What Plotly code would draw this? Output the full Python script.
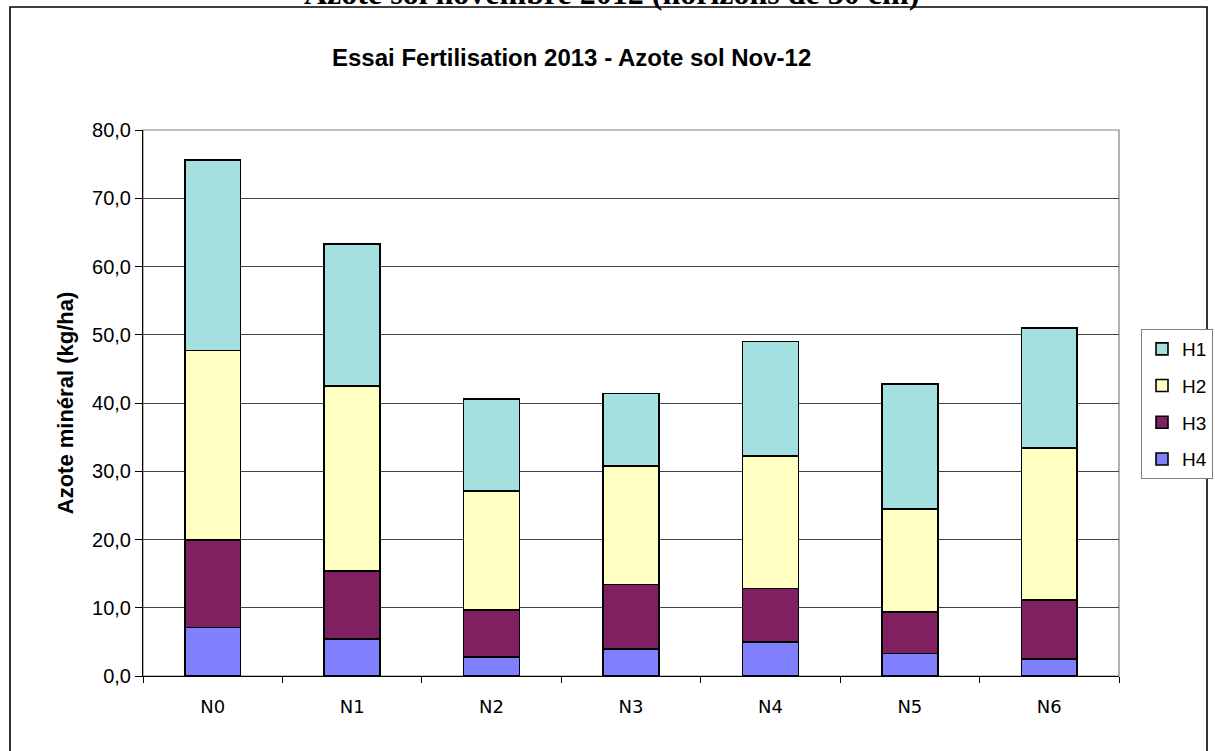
import plotly.graph_objects as go

# Mineral nitrogen per soil horizon (kg/ha), November 2012 sampling
categories = ["N0", "N1", "N2", "N3", "N4", "N5", "N6"]
h4 = [7.1, 5.4, 2.8, 4.0, 5.0, 3.3, 2.5]
h3 = [12.8, 10.0, 6.9, 9.4, 7.8, 6.1, 8.6]
h2 = [27.8, 27.1, 17.4, 17.4, 19.4, 15.1, 22.3]
h1 = [27.9, 20.8, 13.5, 10.6, 16.8, 18.3, 17.6]

# stacked bottom-up; legend rank lists H1 first
series = [
    ("H4", h4, "#8080FF", 4),
    ("H3", h3, "#802060", 3),
    ("H2", h2, "#FFFFC2", 2),
    ("H1", h1, "#A5E0E0", 1),
]

W, H = 1215, 751
L, R, T, B = 143, 96, 130, 75
pw, ph = W - L - R, H - T - B


def px_x(x):
    return (x - L) / pw


def px_y(y):
    return (H - B - y) / ph


fig = go.Figure()
for name, vals, col, rank in series:
    fig.add_trace(go.Bar(
        x=categories, y=vals, name=name, legendgroup=name, legendrank=rank,
        marker=dict(color=col, line=dict(color="black", width=1.6)),
    ))

fig.update_layout(
    width=W, height=H,
    margin=dict(l=L, r=R, t=T, b=B, autoexpand=False),
    barmode="stack", bargap=0.6,
    separators=",.",
    paper_bgcolor="white", plot_bgcolor="white",
    font=dict(family="Liberation Sans, Arial", color="black"),
    showlegend=True,
    legend=dict(
        x=px_x(1141), y=px_y(329), xanchor="left", yanchor="top",
        traceorder="grouped", tracegroupgap=9,
        bgcolor="white", bordercolor="#808080", borderwidth=1,
        font=dict(size=19, family="Liberation Sans, Arial"),
        itemwidth=30,
    ),
    xaxis=dict(
        showline=True, linecolor="black", linewidth=1,
        ticks="outside", ticklen=6, tickcolor="black", tickson="boundaries",
        tickfont=dict(size=18, family="DejaVu Sans, Verdana"),
        ticklabelstandoff=14,
        showgrid=False,
    ),
    yaxis=dict(
        range=[0, 80], dtick=10, tickformat=".1f",
        showline=True, linecolor="black", linewidth=1,
        ticks="outside", ticklen=7, tickcolor="black",
        tickfont=dict(size=20),
        showgrid=True, gridcolor="#444444", gridwidth=1,
        zeroline=False,
        title=dict(text="<b>Azote minéral (kg/ha)</b>", font=dict(size=22), standoff=12),
    ),
    shapes=[
        # plot area frame
        dict(type="rect", xref="paper", yref="paper", x0=0, x1=1, y0=0, y1=1,
             line=dict(color="#808080", width=1.2), layer="below"),
        # chart frame
        dict(type="rect", xref="paper", yref="paper",
             x0=px_x(10), x1=px_x(1207), y0=px_y(7), y1=px_y(760),
             line=dict(color="black", width=1.6), layer="below"),
    ],
    annotations=[
        dict(text="<b>Essai Fertilisation 2013 - Azote sol Nov-12</b>",
             xref="paper", yref="paper", x=px_x(571), y=px_y(57),
             xanchor="center", yanchor="middle", showarrow=False,
             font=dict(size=24, family="Liberation Sans, Arial")),
        dict(text="<b>Azote sol novembre 2012 (horizons de 30 cm)</b>",
             xref="paper", yref="paper", x=px_x(611), y=px_y(-7),
             xanchor="center", yanchor="middle", showarrow=False,
             font=dict(size=32, family="Liberation Serif, Times New Roman")),
    ],
)

fig.write_html("out.html")
